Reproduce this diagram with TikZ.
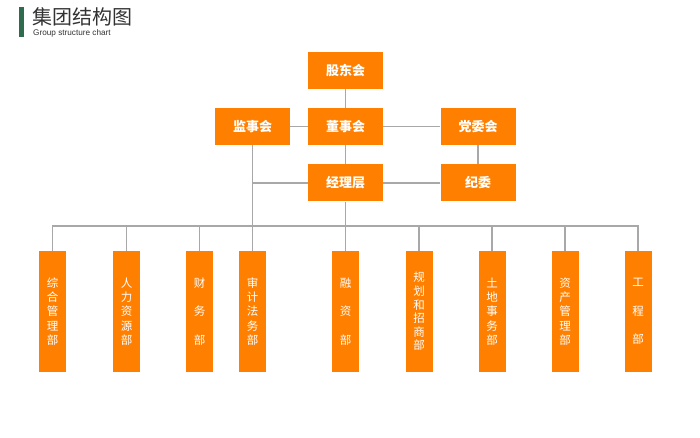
\documentclass[tikz,border=0pt]{standalone}
\usepackage{fontspec}
\setmainfont{Liberation Sans}
\newfontfamily\cjk{Noto Sans CJK SC}
\definecolor{boxorange}{HTML}{FF8000}
\definecolor{linegray}{HTML}{A8A8A8}
\definecolor{bargreen}{HTML}{2F6B4F}
\definecolor{titlegray}{HTML}{333333}
\tikzset{
  topbox/.style={fill=boxorange, draw=none, minimum width=75pt, minimum height=37pt,
    inner sep=0pt, text=white, font=\cjk\bfseries\fontsize{13}{15}\selectfont},
  deptbox/.style={fill=boxorange, draw=none, minimum width=27pt, minimum height=121pt,
    inner sep=0pt, text=white, align=center},
  five/.style={font=\cjk\fontsize{11.5}{14.2}\selectfont},
  three/.style={font=\cjk\fontsize{11.5}{28.5}\selectfont},
  six/.style={font=\cjk\fontsize{11.5}{13.6}\selectfont},
  conn/.style={draw=linegray, line width=1.6pt}
}
\begin{document}
\begin{tikzpicture}[x=1pt,y=-1pt]
\useasboundingbox (0,0) rectangle (700,438);
% title
\fill[bargreen] (18.5,7) rectangle (23.5,37);
\node[anchor=west, inner sep=0pt, text=titlegray, font=\cjk\fontsize{20}{22}\selectfont] (title) at (32.5,17) {集团结构图};
\node[anchor=west, inner sep=0pt, text=titlegray, font=\fontsize{8.2}{9}\selectfont] (sub) at (33,33.5) {Group structure chart};
% top boxes
\node[topbox] (gd) at (345.5,70.5) {股东会};
\node[topbox] (ds) at (345.5,126.5) {董事会};
\node[topbox] (js) at (252.5,126.5) {监事会};
\node[topbox] (dw) at (478,126.5) {党委会};
\node[topbox] (jl) at (345.5,183) {经理层};
\node[topbox] (jw) at (478,183) {纪委};
\coordinate (bus) at (345.5,226);
% departments
\node[deptbox, five] (zh) at (52.5,311.5) {综\\合\\管\\理\\部};
\node[deptbox, five] (rl) at (126.5,311.5) {人\\力\\资\\源\\部};
\node[deptbox, three] (cw) at (199.5,311.5) {财\\务\\部};
\node[deptbox, five] (sj) at (252.5,311.5) {审\\计\\法\\务\\部};
\node[deptbox, three] (rz) at (345.5,311.5) {融\\资\\部};
\node[deptbox, six] (gh) at (419,311.5) {规\\划\\和\\招\\商\\部};
\node[deptbox, five] (td) at (492,311.5) {土\\地\\事\\务\\部};
\node[deptbox, five] (zc) at (565,311.5) {资\\产\\管\\理\\部};
\node[deptbox, three] (gc) at (638,311.5) {工\\程\\部};
% connectors
\draw[conn] (gd) -- (ds);
\draw[conn] (js) -- (ds);
\draw[conn] (ds) -- (dw);
\draw[conn] (dw) -- (jw);
\draw[conn] (ds) -- (jl);
\draw[conn] (jl) -- (jw);
\draw[conn] (js.south) -- (sj.north);
\draw[conn] (js.south |- jl.west) -- (jl.west);
\draw[conn] (jl.south) -- (bus);
\draw[conn] (zh.north) -- (zh.north |- bus) -- (gc.north |- bus) -- (gc.north);
\foreach \d in {rl,cw,rz,gh,td,zc}{
  \draw[conn] (\d.north) -- (\d.north |- bus);
}
\end{tikzpicture}
\end{document}
